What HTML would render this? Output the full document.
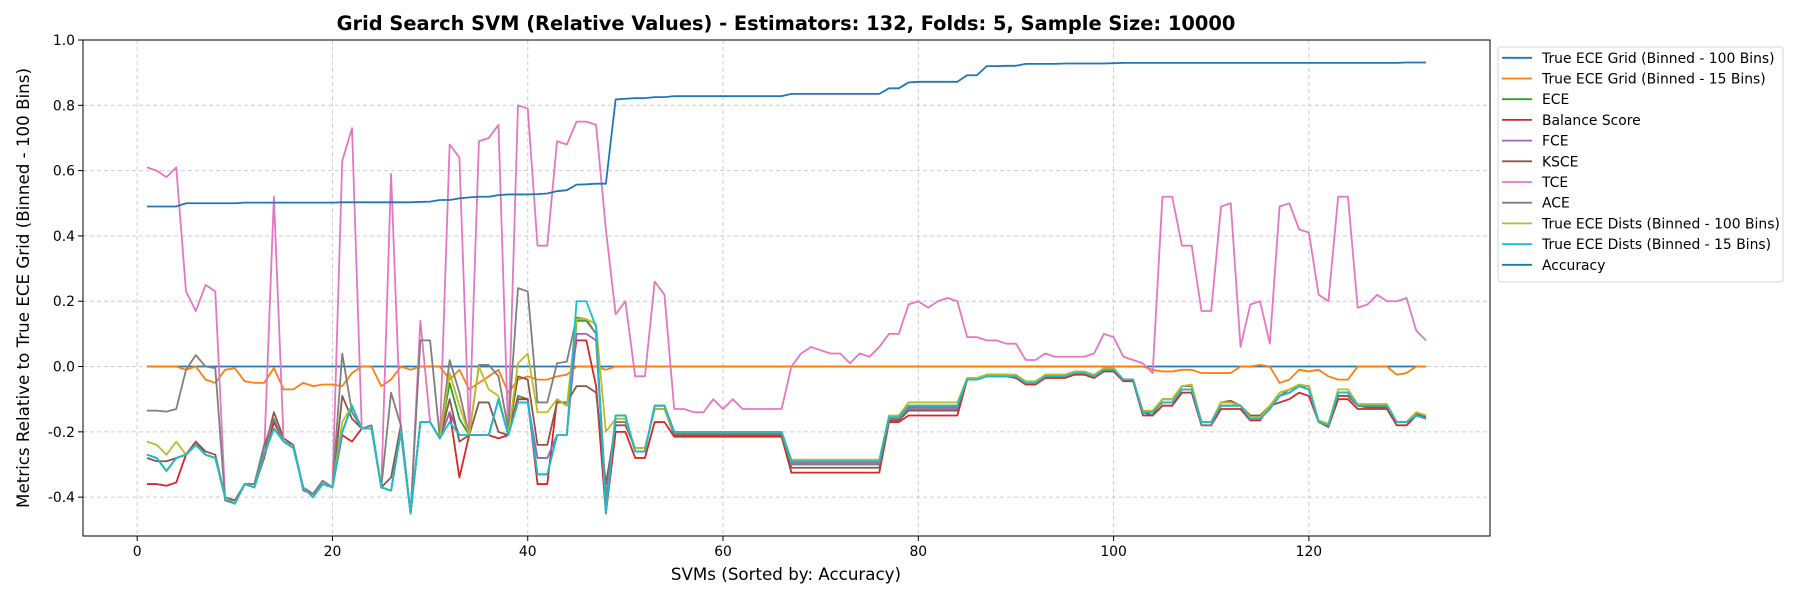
<!DOCTYPE html>
<html><head><meta charset="utf-8"><style>
html,body{margin:0;padding:0;background:#fff;}
svg text{font-family:"DejaVu Sans","Liberation Sans",sans-serif;}
</style></head><body>
<svg id="chart" width="1800" height="600" viewBox="0 0 1800 600" xmlns="http://www.w3.org/2000/svg">
<rect width="1800" height="600" fill="#fff"/>
<text x="786" y="30" text-anchor="middle" font-size="19.4" font-weight="bold">Grid Search SVM (Relative Values) - Estimators: 132, Folds: 5, Sample Size: 10000</text>
<g id="grid"></g><g id="series"></g><g id="axes"></g><g id="legend"></g>
<text x="786" y="580" text-anchor="middle" font-size="16.7">SVMs (Sorted by: Accuracy)</text>
<text transform="translate(29,288) rotate(-90)" text-anchor="middle" font-size="16.7">Metrics Relative to True ECE Grid (Binned - 100 Bins)</text>
</svg>
<script>
const xTicks=[0,20,40,60,80,100,120];
const yTicks=[-0.4,-0.2,0.0,0.2,0.4,0.6,0.8,1.0];
const seriesNames=["True ECE Grid (Binned - 100 Bins)","True ECE Grid (Binned - 15 Bins)","ECE","Balance Score","FCE","KSCE","TCE","ACE","True ECE Dists (Binned - 100 Bins)","True ECE Dists (Binned - 15 Bins)","Accuracy"];
const seriesColors=["#1f77b4","#ff7f0e","#2ca02c","#d62728","#9467bd","#8c564b","#e377c2","#7f7f7f","#bcbd22","#17becf","#1f77b4"];
const gridVals=[0,0,0,0,0,0,0,0,0,0,0,0,0,0,0,0,0,0,0,0,0,0,0,0,0,0,0,0,0,0,0,0,0,0,0,0,0,0,0,0,0,0,0,0,0,0,0,0,0,0,0,0,0,0,0,0,0,0,0,0,0,0,0,0,0,0,0,0,0,0,0,0,0,0,0,0,0,0,0,0,0,0,0,0,0,0,0,0,0,0,0,0,0,0,0,0,0,0,0,0,0,0,0,0,0,0,0,0,0,0,0,0,0,0,0,0,0,0,0,0,0,0,0,0,0,0,0,0,0,0,0,0];
const grid15=[0,0,0,0,-0.01,0,-0.04,-0.05,-0.01,-0.005,-0.045,-0.05,-0.05,-0.005,-0.07,-0.07,-0.05,-0.06,-0.055,-0.055,-0.06,-0.02,0,0,-0.06,-0.04,0,-0.01,0,0,0,-0.04,-0.01,-0.07,-0.05,-0.03,-0.01,-0.08,-0.04,-0.03,-0.04,-0.04,-0.03,-0.025,0,0,0,-0.01,0,0,0,0,0,0,0,0,0,0,0,0,0,0,0,0,0,0,0,0,0,0,0,0,0,0,0,0,0,0,0,0,0,0,0,0,0,0,0,0,0,0,0,0,0,0,0,0,0,0,0,0,0,0,0,-0.01,-0.015,-0.015,-0.01,-0.01,-0.02,-0.02,-0.02,-0.02,0,0,0.005,0,-0.05,-0.04,-0.01,-0.015,-0.01,-0.03,-0.04,-0.04,0,0,0,0,-0.025,-0.02,0,0];
const eceVals=[-0.27,-0.28,-0.32,-0.28,-0.27,-0.24,-0.27,-0.28,-0.40,-0.42,-0.36,-0.37,-0.27,-0.19,-0.23,-0.25,-0.37,-0.40,-0.36,-0.37,-0.20,-0.12,-0.19,-0.19,-0.37,-0.38,-0.20,-0.45,-0.17,-0.17,-0.22,-0.05,-0.16,-0.21,-0.21,-0.21,-0.10,-0.21,-0.09,-0.10,-0.33,-0.33,-0.21,-0.21,0.14,0.14,0.10,-0.42,-0.15,-0.15,-0.26,-0.26,-0.12,-0.12,
-0.20,-0.20,-0.20,-0.20,-0.20,-0.20,-0.20,-0.20,-0.20,-0.20,-0.20,-0.20,-0.29,-0.29,-0.29,-0.29,-0.29,-0.29,-0.29,-0.29,-0.29,-0.29,-0.155,-0.155,-0.12,-0.12,-0.12,-0.12,-0.12,-0.12,-0.04,-0.04,-0.03,-0.03,-0.03,-0.03,-0.05,-0.05,-0.03,-0.03,-0.03,-0.02,-0.02,-0.03,-0.01,-0.01,-0.04,-0.04,-0.14,-0.14,-0.11,-0.11,-0.07,-0.07,-0.17,-0.17,-0.12,-0.12,-0.12,-0.16,-0.16,-0.13,-0.09,-0.08,-0.06,-0.07,-0.17,-0.18,-0.08,-0.08,-0.12,-0.12,-0.12,-0.12,-0.17,-0.17,-0.15,-0.16];
const balanceVals=[-0.36,-0.36,-0.365,-0.355,-0.27,-0.23,-0.27,-0.28,-0.40,-0.42,-0.36,-0.37,-0.28,-0.17,-0.23,-0.25,-0.37,-0.40,-0.36,-0.37,-0.21,-0.23,-0.19,-0.19,-0.37,-0.38,-0.20,-0.45,-0.17,-0.17,-0.22,-0.14,-0.34,-0.21,-0.21,-0.21,-0.22,-0.21,-0.10,-0.10,-0.36,-0.36,-0.10,-0.12,0.08,0.08,-0.06,-0.45,-0.20,-0.20,-0.28,-0.28,-0.17,-0.17,
-0.215,-0.215,-0.215,-0.215,-0.215,-0.215,-0.215,-0.215,-0.215,-0.215,-0.215,-0.215,-0.325,-0.325,-0.325,-0.325,-0.325,-0.325,-0.325,-0.325,-0.325,-0.325,-0.17,-0.17,-0.15,-0.15,-0.15,-0.15,-0.15,-0.15,-0.04,-0.04,-0.03,-0.03,-0.03,-0.035,-0.055,-0.055,-0.035,-0.035,-0.035,-0.025,-0.025,-0.035,-0.015,-0.015,-0.045,-0.045,-0.15,-0.15,-0.12,-0.12,-0.08,-0.08,-0.18,-0.18,-0.13,-0.13,-0.13,-0.165,-0.165,-0.12,-0.11,-0.10,-0.08,-0.09,-0.17,-0.185,-0.10,-0.10,-0.13,-0.13,-0.13,-0.13,-0.18,-0.18,-0.15,-0.16];
const fceVals=[-0.27,-0.28,-0.32,-0.28,-0.27,-0.24,-0.27,-0.28,-0.40,-0.42,-0.36,-0.37,-0.27,-0.19,-0.23,-0.25,-0.37,-0.40,-0.36,-0.37,-0.20,-0.12,-0.19,-0.19,-0.37,-0.38,-0.20,-0.45,-0.17,-0.17,-0.22,-0.14,-0.21,-0.21,-0.21,-0.21,-0.10,-0.21,-0.11,-0.11,-0.28,-0.28,-0.21,-0.21,0.10,0.10,0.08,-0.42,-0.16,-0.16,-0.26,-0.26,-0.12,-0.12,
-0.20,-0.20,-0.20,-0.20,-0.20,-0.20,-0.20,-0.20,-0.20,-0.20,-0.20,-0.20,-0.295,-0.295,-0.295,-0.295,-0.295,-0.295,-0.295,-0.295,-0.295,-0.295,-0.16,-0.16,-0.13,-0.13,-0.13,-0.13,-0.13,-0.13,-0.04,-0.04,-0.025,-0.025,-0.025,-0.03,-0.05,-0.05,-0.03,-0.03,-0.03,-0.02,-0.02,-0.03,-0.01,-0.01,-0.04,-0.04,-0.14,-0.14,-0.11,-0.11,-0.07,-0.07,-0.17,-0.17,-0.12,-0.12,-0.12,-0.16,-0.16,-0.13,-0.09,-0.08,-0.06,-0.07,-0.17,-0.18,-0.08,-0.08,-0.12,-0.12,-0.12,-0.12,-0.17,-0.17,-0.15,-0.16];
const ksceVals=[-0.28,-0.29,-0.29,-0.28,-0.27,-0.23,-0.26,-0.27,-0.40,-0.41,-0.36,-0.36,-0.26,-0.14,-0.22,-0.24,-0.37,-0.39,-0.35,-0.37,-0.09,-0.16,-0.19,-0.18,-0.37,-0.34,-0.18,-0.45,-0.17,-0.17,-0.22,-0.10,-0.23,-0.21,-0.11,-0.11,-0.20,-0.21,-0.03,-0.04,-0.24,-0.24,-0.11,-0.11,-0.06,-0.06,-0.08,-0.36,-0.18,-0.18,-0.25,-0.25,-0.13,-0.13,
-0.21,-0.21,-0.21,-0.21,-0.21,-0.21,-0.21,-0.21,-0.21,-0.21,-0.21,-0.21,-0.31,-0.31,-0.31,-0.31,-0.31,-0.31,-0.31,-0.31,-0.31,-0.31,-0.165,-0.165,-0.135,-0.135,-0.135,-0.135,-0.135,-0.135,-0.04,-0.04,-0.025,-0.025,-0.025,-0.03,-0.05,-0.05,-0.03,-0.03,-0.03,-0.02,-0.02,-0.03,-0.01,-0.01,-0.04,-0.04,-0.14,-0.15,-0.10,-0.10,-0.06,-0.06,-0.17,-0.17,-0.11,-0.105,-0.12,-0.15,-0.15,-0.12,-0.09,-0.08,-0.06,-0.06,-0.17,-0.18,-0.09,-0.09,-0.12,-0.125,-0.125,-0.125,-0.17,-0.17,-0.145,-0.155];
const tceVals=[0.61,0.60,0.58,0.61,0.23,0.17,0.25,0.23,-0.40,-0.42,-0.36,-0.37,-0.27,0.52,-0.23,-0.25,-0.37,-0.40,-0.36,-0.37,0.63,0.73,-0.19,-0.19,-0.37,0.59,-0.20,-0.45,0.14,-0.17,-0.22,0.68,0.64,-0.21,0.69,0.70,0.74,-0.21,0.80,0.79,0.37,0.37,0.69,0.68,0.75,0.75,0.74,0.42,0.16,0.20,-0.03,-0.03,0.26,0.22,
-0.13,-0.13,-0.14,-0.14,-0.10,-0.13,-0.10,-0.13,-0.13,-0.13,-0.13,-0.13,0.00,0.04,0.06,0.05,0.04,0.04,0.01,0.04,0.03,0.06,0.10,0.10,0.19,0.20,0.18,0.20,0.21,0.20,0.09,0.09,0.08,0.08,0.07,0.07,0.02,0.02,0.04,0.03,0.03,0.03,0.03,0.04,0.10,0.09,0.03,0.02,0.01,-0.02,0.52,0.52,0.37,0.37,0.17,0.17,0.49,0.50,0.06,0.19,0.20,0.07,0.49,0.50,0.42,0.41,0.22,0.20,0.52,0.52,0.18,0.19,0.22,0.20,0.20,0.21,0.11,0.08];
const aceVals=[-0.135,-0.135,-0.138,-0.13,-0.01,0.035,0,-0.005,-0.41,-0.42,-0.36,-0.36,-0.24,-0.16,-0.23,-0.24,-0.38,-0.39,-0.35,-0.37,0.04,-0.14,-0.19,-0.18,-0.37,-0.08,-0.18,-0.45,0.08,0.08,-0.22,0.02,-0.08,-0.21,0.005,0.005,-0.03,-0.19,0.24,0.23,-0.11,-0.11,0.01,0.015,0.15,0.145,0.10,-0.40,-0.17,-0.17,-0.25,-0.25,-0.13,-0.13,
-0.205,-0.205,-0.205,-0.205,-0.205,-0.205,-0.205,-0.205,-0.205,-0.205,-0.205,-0.205,-0.30,-0.30,-0.30,-0.30,-0.30,-0.30,-0.30,-0.30,-0.30,-0.30,-0.16,-0.16,-0.125,-0.125,-0.125,-0.125,-0.125,-0.125,-0.035,-0.035,-0.025,-0.025,-0.03,-0.03,-0.05,-0.05,-0.025,-0.025,-0.025,-0.015,-0.015,-0.03,-0.005,-0.005,-0.04,-0.04,-0.14,-0.14,-0.10,-0.10,-0.06,-0.06,-0.18,-0.18,-0.11,-0.11,-0.12,-0.16,-0.16,-0.12,-0.09,-0.07,-0.06,-0.06,-0.17,-0.18,-0.08,-0.08,-0.12,-0.12,-0.12,-0.12,-0.17,-0.17,-0.14,-0.15];
const dists100=[-0.23,-0.24,-0.27,-0.23,-0.27,-0.24,-0.27,-0.28,-0.40,-0.42,-0.36,-0.37,-0.27,-0.19,-0.23,-0.25,-0.37,-0.40,-0.36,-0.37,-0.17,-0.12,-0.19,-0.19,-0.37,-0.38,-0.20,-0.45,-0.17,-0.17,-0.22,-0.02,-0.12,-0.21,0.0,-0.07,-0.09,-0.21,0.01,0.04,-0.14,-0.14,-0.10,-0.12,0.145,0.145,0.13,-0.20,-0.16,-0.16,-0.25,-0.25,-0.13,-0.13,
-0.20,-0.20,-0.20,-0.20,-0.20,-0.20,-0.20,-0.20,-0.20,-0.20,-0.20,-0.20,-0.285,-0.285,-0.285,-0.285,-0.285,-0.285,-0.285,-0.285,-0.285,-0.285,-0.15,-0.15,-0.11,-0.11,-0.11,-0.11,-0.11,-0.11,-0.035,-0.035,-0.025,-0.025,-0.025,-0.025,-0.045,-0.045,-0.025,-0.025,-0.025,-0.015,-0.015,-0.025,-0.005,-0.005,-0.04,-0.04,-0.135,-0.135,-0.10,-0.10,-0.06,-0.055,-0.17,-0.17,-0.11,-0.11,-0.12,-0.155,-0.155,-0.12,-0.08,-0.07,-0.055,-0.06,-0.165,-0.175,-0.07,-0.07,-0.115,-0.115,-0.115,-0.115,-0.17,-0.17,-0.14,-0.15];
const dists15=[-0.27,-0.28,-0.32,-0.28,-0.27,-0.24,-0.27,-0.28,-0.40,-0.42,-0.36,-0.37,-0.27,-0.19,-0.23,-0.25,-0.37,-0.40,-0.36,-0.37,-0.20,-0.12,-0.19,-0.19,-0.37,-0.38,-0.20,-0.45,-0.17,-0.17,-0.22,-0.17,-0.21,-0.21,-0.21,-0.21,-0.10,-0.21,-0.11,-0.11,-0.33,-0.33,-0.21,-0.21,0.20,0.20,0.12,-0.45,-0.15,-0.15,-0.26,-0.26,-0.12,-0.12,
-0.20,-0.20,-0.20,-0.20,-0.20,-0.20,-0.20,-0.20,-0.20,-0.20,-0.20,-0.20,-0.29,-0.29,-0.29,-0.29,-0.29,-0.29,-0.29,-0.29,-0.29,-0.29,-0.155,-0.155,-0.12,-0.12,-0.12,-0.12,-0.12,-0.12,-0.04,-0.04,-0.03,-0.03,-0.03,-0.03,-0.05,-0.05,-0.03,-0.03,-0.03,-0.02,-0.02,-0.03,-0.01,-0.01,-0.04,-0.04,-0.14,-0.14,-0.11,-0.11,-0.07,-0.07,-0.17,-0.17,-0.12,-0.12,-0.12,-0.16,-0.16,-0.13,-0.09,-0.08,-0.06,-0.07,-0.17,-0.18,-0.08,-0.08,-0.12,-0.12,-0.12,-0.12,-0.17,-0.17,-0.15,-0.16];
const accuracyVals=[0.49,0.49,0.49,0.49,0.50,0.50,0.50,0.50,0.50,0.50,0.502,0.502,0.502,0.502,0.502,0.502,0.502,0.502,0.502,0.502,0.503,0.503,0.503,0.503,0.503,0.503,0.503,0.503,0.504,0.505,0.51,0.51,0.515,0.518,0.52,0.52,0.525,0.527,0.527,0.527,0.528,0.53,0.537,0.54,0.557,0.558,0.56,0.56,0.818,0.82,0.822,0.822,0.825,0.825,0.828,0.828,0.828,0.828,0.828,0.828,0.828,0.828,0.828,0.828,0.828,0.828,0.835,0.835,0.835,0.835,0.835,0.835,0.835,0.835,0.835,0.835,0.852,0.852,0.87,0.872,0.872,0.872,0.872,0.872,0.892,0.892,0.92,0.92,0.921,0.921,0.927,0.927,0.927,0.927,0.928,0.928,0.928,0.928,0.928,0.929,0.93,0.93,0.93,0.93,0.93,0.93,0.93,0.93,0.93,0.93,0.93,0.93,0.93,0.93,0.93,0.93,0.93,0.93,0.93,0.93,0.93,0.93,0.93,0.93,0.93,0.93,0.93,0.93,0.93,0.931,0.931,0.931];
const allSeries=[gridVals,grid15,eceVals,balanceVals,fceVals,ksceVals,tceVals,aceVals,dists100,dists15,accuracyVals];

const L=83,R=1490,T=40,B=536;
const xMin=-5.55,xMax=138.55,yMin=-0.519,yMax=1.0;
const sx=v=>L+(v-xMin)/(xMax-xMin)*(R-L);
const sy=v=>B-(v-yMin)/(yMax-yMin)*(B-T);
const NS="http://www.w3.org/2000/svg";
function mk(tag,attrs,parent){const e=document.createElementNS(NS,tag);for(const k in attrs)e.setAttribute(k,attrs[k]);parent.appendChild(e);return e;}
const gGrid=document.getElementById('grid'),gSer=document.getElementById('series'),gAx=document.getElementById('axes'),gLeg=document.getElementById('legend');
xTicks.forEach(t=>{
  const l=mk('line',{x1:sx(t),x2:sx(t),y1:T,y2:B,stroke:'#cccccc','stroke-width':1,'stroke-dasharray':'4,3'},gGrid);
  
  
  mk('line',{x1:sx(t),x2:sx(t),y1:B,y2:B+5,stroke:'#000','stroke-width':1},gAx);
  const tx=mk('text',{x:sx(t),y:B+20,'text-anchor':'middle','font-size':13.9},gAx);tx.textContent=t;
  
  
});
yTicks.forEach(t=>{
  const l=mk('line',{x1:L,x2:R,y1:sy(t),y2:sy(t),stroke:'#cccccc','stroke-width':1,'stroke-dasharray':'4,3'},gGrid);
  
  
  mk('line',{x1:L-5,x2:L,y1:sy(t),y2:sy(t),stroke:'#000','stroke-width':1},gAx);
  const tx=mk('text',{x:L-8,y:sy(t)+5,'text-anchor':'end','font-size':13.9},gAx);tx.textContent=t.toFixed(1);
  
  
});
const frame=mk('rect',{x:L,y:T,width:R-L,height:B-T,fill:'none',stroke:'#000','stroke-width':1},gAx);


allSeries.forEach((arr,si)=>{
  const pts=arr.map((v,i)=>sx(i+1).toFixed(2)+','+sy(v).toFixed(2)).join(' ');
  const p=mk('polyline',{points:pts,fill:'none',stroke:seriesColors[si],'stroke-width':1.8,'stroke-linejoin':'round'},gSer);
  
  
});
const box=mk('rect',{x:1498,y:47,width:285,height:235,rx:3,fill:'#fff',stroke:'#d5d5d5','stroke-width':1},gLeg);


seriesNames.forEach((n,i)=>{
  const y=57.8+i*20.7;
  const g=mk('g',{},gLeg);
  
  
  mk('line',{x1:1502,x2:1532,y1:y,y2:y,stroke:seriesColors[i],'stroke-width':1.8},g);
  const t=mk('text',{x:1542,y:y+5,'font-size':13.9},g);t.textContent=n;
});
</script>
</body></html>
